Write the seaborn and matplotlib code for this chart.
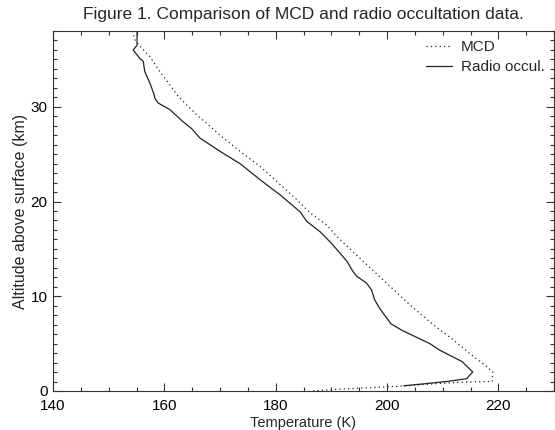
import numpy as np
import pandas as pd
import matplotlib
matplotlib.use("Agg")
import matplotlib.pyplot as plt
import seaborn as sns
from matplotlib.ticker import MultipleLocator

# MCD profile (temperature K vs altitude km)
mcd_alt = [38.0, 37.1, 36.4, 35.3, 33.7, 32.3, 31.1, 30.2, 29.0, 28.1, 27.0,
           25.3, 23.7, 21.8, 20.2, 18.8, 17.5, 16.3, 14.2, 11.4, 9.1, 7.0,
           5.4, 3.8, 2.6, 2.0, 1.0, 0.95, 0.8, 0.6, 0.45, 0.3, 0.15, 0.0]
mcd_temp = [154.3, 154.7, 155.6, 157.4, 159.2, 161.0, 162.5, 164.0, 166.1, 167.9, 170.0,
            173.6, 177.2, 180.8, 183.8, 186.2, 189.2, 191.0, 194.8, 199.9, 204.1, 208.3,
            211.9, 215.2, 217.9, 219.0, 218.9, 214.0, 209.5, 204.7, 200.5, 195.1, 190.3, 186.5]

# Radio occultation profile
ro_alt = [38.0, 36.5, 36.0, 35.1, 34.8, 33.7, 32.5, 31.4, 30.9, 30.4, 29.7, 28.4,
          27.7, 26.7, 25.3, 24.0, 22.3, 20.7, 18.9, 17.9, 16.8, 15.6, 13.7, 12.6,
          12.1, 11.4, 10.7, 9.6, 8.7, 7.1, 6.4, 5.0, 4.3, 3.1, 2.0, 1.3, 1.0, 0.75, 0.55]
ro_temp = [155.1, 155.1, 154.4, 155.6, 156.2, 156.5, 157.4, 158.1, 158.3, 158.9, 161.0, 163.4,
           164.9, 166.4, 170.0, 173.6, 177.2, 180.8, 184.4, 185.6, 188.0, 190.0, 192.8, 193.9,
           194.6, 196.3, 197.2, 197.8, 198.7, 200.7, 202.7, 207.7, 209.5, 213.5, 215.4, 214.3,
           210.7, 206.5, 203.0]

series = ["MCD", "Radio occul."]

df = pd.concat([
    pd.DataFrame({"temp": mcd_temp, "alt": mcd_alt, "series": "MCD"}),
    pd.DataFrame({"temp": ro_temp, "alt": ro_alt, "series": "Radio occul."}),
], ignore_index=True)

sns.set_style("ticks")
plt.rcParams["font.family"] = ["Liberation Sans", "DejaVu Sans"]
plt.rcParams["axes.edgecolor"] = "#333333"
plt.rcParams["axes.linewidth"] = 0.8

fig = plt.figure(figsize=(5.55, 4.30), dpi=100)
ax = fig.add_axes([53 / 555, 39 / 430, 501 / 555, 360 / 430])

sns.lineplot(
    data=df, x="temp", y="alt", hue="series", style="series",
    hue_order=series, style_order=series,
    palette={"MCD": "#222222", "Radio occul.": "#222222"},
    dashes={"MCD": (1, 2.5), "Radio occul.": ""},
    sort=False, estimator=None, orient="y", lw=0.9, ax=ax,
)

ax.set_xlim(140, 230)
ax.set_ylim(0, 38)
ax.xaxis.set_major_locator(MultipleLocator(20))
ax.xaxis.set_minor_locator(MultipleLocator(5))
ax.yaxis.set_major_locator(MultipleLocator(10))
ax.yaxis.set_minor_locator(MultipleLocator(1))
ax.tick_params(which="both", direction="in", top=True, right=True,
               colors="#333333", labelcolor="black", labelsize=11, width=0.8)
ax.tick_params(which="major", length=5.5)
ax.tick_params(which="minor", length=3)
ax.tick_params(axis="x", which="major", pad=6)
ax.tick_params(axis="y", which="major", pad=4)

ax.set_xlabel("Temperature (K)", fontsize=10.5, labelpad=2)
ax.set_ylabel("Altitude above surface (km)", fontsize=11.5, labelpad=1.5)
ax.set_title("Figure 1. Comparison of MCD and radio occultation data.",
             fontsize=12.5, pad=9)

handles, labels = ax.get_legend_handles_labels()
ax.legend(handles, labels, loc="upper right", frameon=False, fontsize=11,
          handlelength=1.7, handletextpad=0.6, labelspacing=0.4,
          borderaxespad=0.2)

fig.savefig("out.png", dpi=100)
